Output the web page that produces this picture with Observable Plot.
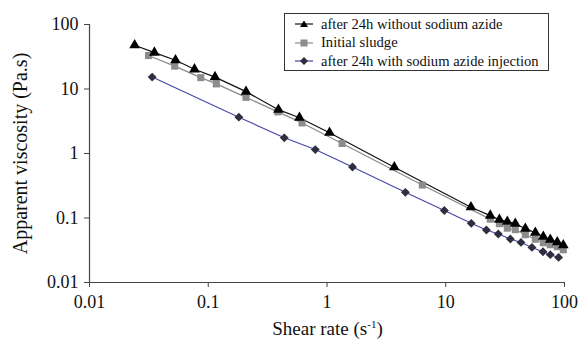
<!DOCTYPE html>
<html>
<head>
<meta charset="utf-8">
<script src="https://cdn.jsdelivr.net/npm/d3@7"></script>
<script src="https://cdn.jsdelivr.net/npm/@observablehq/plot@0.6"></script>
<style>
  html, body { margin: 0; padding: 0; background: #fff; }
  #wrap { position: relative; width: 583px; height: 344px; font-family: "Liberation Serif", "Times New Roman", serif; }
  #legend { position: absolute; left: 284px; top: 13px; width: 265px; height: 58px; border: 1px solid #333; background: #fff; box-sizing: border-box; }
  .row { position: absolute; left: 0; height: 19px; display: flex; align-items: center; font-size: 14.6px; color: #111; white-space: nowrap; }
  .row svg { margin-left: 10px; margin-right: 8px; }
  #xtitle { position: absolute; left: 0; width: 655px; top: 318px; text-align: center; font-size: 19px; color: #111; }
  #xtitle sup { font-size: 11px; vertical-align: 7px; }
</style>
</head>
<body>
<div id="wrap"></div>
<script>
// Series: after 24h without sodium azide (triangles)
const shearTri = [0.024, 0.0352, 0.053, 0.0766, 0.114, 0.208, 0.39, 0.586, 1.05, 3.69, 16.3, 23.7, 28.3, 33, 38.5, 46.8, 56.8, 66.3, 75.9, 86.9, 97.7];
const viscTri  = [47.7, 36.7, 27.9, 20.2, 15.3, 9.1, 4.78, 3.59, 2.1, 0.612, 0.147, 0.109, 0.094, 0.0877, 0.0817, 0.0683, 0.0592, 0.0513, 0.046, 0.0421, 0.0379];
// Series: Initial sludge (squares)
const shearSq = [0.0314, 0.0522, 0.0865, 0.117, 0.208, 0.385, 0.617, 1.34, 6.35, 23.7, 28.3, 33, 38.5, 46.8, 56.8, 66.3, 75.9, 86.9, 97.7];
const viscSq  = [33, 22.6, 15.0, 12.0, 7.42, 4.42, 2.98, 1.43, 0.324, 0.096, 0.0817, 0.0696, 0.066, 0.0551, 0.0469, 0.0414, 0.0385, 0.0359, 0.0322];
// Series: after 24h with sodium azide injection (diamonds)
const shearDia = [0.0337, 0.181, 0.437, 0.797, 1.64, 4.57, 9.73, 16.4, 22.0, 27.7, 35, 43, 53.2, 65.9, 75.9, 89.2];
const viscDia  = [15.3, 3.66, 1.75, 1.15, 0.617, 0.25, 0.131, 0.0826, 0.0652, 0.0565, 0.0472, 0.0418, 0.035, 0.030, 0.027, 0.0245];

const seriesNames = ["after 24h without sodium azide", "Initial sludge", "after 24h with sodium azide injection"];
const xTicks = [0.01, 0.1, 1, 10, 100];
const yTicks = [0.01, 0.1, 1, 10, 100];
const yTitle = "Apparent viscosity (Pa.s)";

const tri = shearTri.map((x, i) => ({x, y: viscTri[i]}));
const sq  = shearSq.map((x, i) => ({x, y: viscSq[i]}));
const dia = shearDia.map((x, i) => ({x, y: viscDia[i]}));

const fmt = d => String(d);
const serif = "'Liberation Serif', 'Times New Roman', serif";

const chart = Plot.plot({
  width: 583,
  height: 344,
  marginLeft: 89,
  marginRight: 19,
  marginTop: 24,
  marginBottom: 62,
  style: { fontFamily: serif, background: "transparent", color: "#111" },
  x: { type: "log", domain: [0.01, 100] },
  y: { type: "log", domain: [0.01, 100] },
  marks: [
    Plot.ruleX([0.01], { stroke: "#444", strokeWidth: 1.2 }),
    Plot.ruleY([0.01], { stroke: "#444", strokeWidth: 1.2 }),
    Plot.axisX({ ticks: xTicks, tickFormat: fmt, tickSize: 5, tickPadding: 8, fontSize: 18, fontFamily: serif, label: null, stroke: "#444" }),
    Plot.axisY({ ticks: yTicks, tickFormat: fmt, tickSize: 5, tickPadding: 6, fontSize: 18, fontFamily: serif, label: null, stroke: "#444" }),
    Plot.text([yTitle], { text: d => d, frameAnchor: "left", textAnchor: "middle", dx: -69, rotate: -90, fontSize: 20, fontFamily: serif, fill: "#111" }),
    Plot.line(sq, { x: "x", y: "y", stroke: "#8a8a8a", strokeWidth: 1.2 }),
    Plot.line(tri, { x: "x", y: "y", stroke: "#111", strokeWidth: 1.2 }),
    Plot.line(dia, { x: "x", y: "y", stroke: "#4646a8", strokeWidth: 1.1 }),
    Plot.dot(sq, { x: "x", y: "y", symbol: "square", r: 4, fill: "#8c8c8c", stroke: "none" }),
    Plot.dot(tri, { x: "x", y: "y", symbol: "triangle", r: 4, fill: "#000", stroke: "none" }),
    Plot.dot(dia, { x: "x", y: "y", symbol: "diamond2", r: 4, fill: "#2e2e3e", stroke: "none" })
  ]
});

const wrap = document.getElementById("wrap");
wrap.appendChild(chart);
chart.style.position = "absolute";
chart.style.left = "0";
chart.style.top = "0";

const xt = document.createElement("div");
xt.id = "xtitle";
xt.innerHTML = "Shear rate (s<sup>-1</sup>)";
wrap.appendChild(xt);

const legend = document.createElement("div");
legend.id = "legend";
const swatches = [
  '<svg width="18" height="10"><line x1="0" y1="5" x2="18" y2="5" stroke="#111" stroke-width="1.2"/><path d="M9,1.5 L13,8 L5,8 Z" fill="#000"/></svg>',
  '<svg width="18" height="10"><line x1="0" y1="5" x2="18" y2="5" stroke="#8a8a8a" stroke-width="1.2"/><rect x="5.5" y="1.5" width="7" height="7" fill="#8c8c8c"/></svg>',
  '<svg width="18" height="10"><line x1="0" y1="5" x2="18" y2="5" stroke="#4646a8" stroke-width="1.2"/><path d="M9,1 L13,5 L9,9 L5,5 Z" fill="#2e2e3e"/></svg>'
];
seriesNames.forEach((name, i) => {
  const r = document.createElement("div");
  r.className = "row";
  r.style.top = (0.5 + i * 18.5) + "px";
  r.innerHTML = swatches[i] + "<span>" + name + "</span>";
  legend.appendChild(r);
});
wrap.appendChild(legend);
</script>
</body>
</html>
